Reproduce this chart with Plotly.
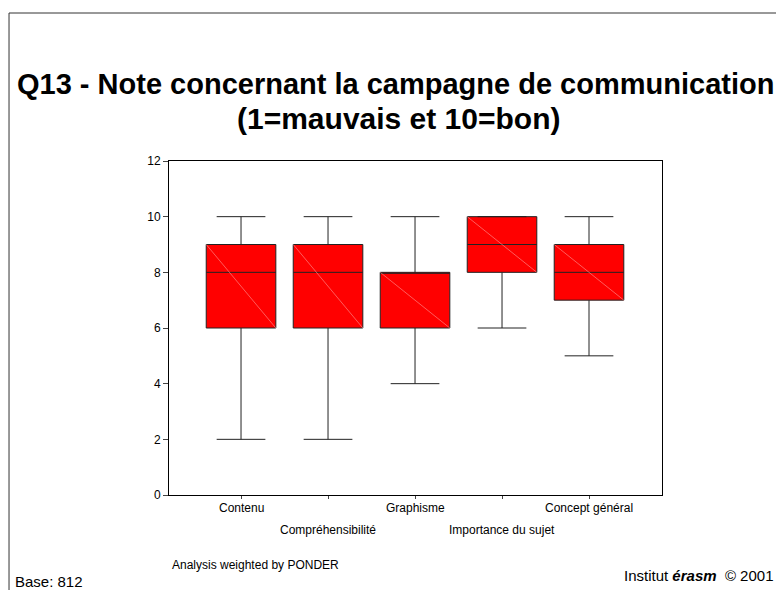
import plotly.graph_objects as go

categories = ["Contenu", "Compréhensibilité", "Graphisme", "Importance du sujet", "Concept général"]
lower_whisker = [2, 2, 4, 6, 5]
q1 = [6, 6, 6, 8, 7]
median = [8, 8, 8, 9, 8]
q3 = [9, 9, 8, 10, 9]
upper_whisker = [10, 10, 10, 10, 10]
y_ticks = [0, 2, 4, 6, 8, 10, 12]

FONT = "Liberation Sans, Arial, sans-serif"
positions = list(range(len(categories)))
BOX_W = 0.8

fig = go.Figure()
fig.add_trace(go.Box(
    x=positions, q1=q1, median=median, q3=q3,
    lowerfence=lower_whisker, upperfence=upper_whisker,
    width=BOX_W, whiskerwidth=0.7,
    fillcolor="#ff0000", line=dict(color="#222222", width=1),
    boxpoints=False, hoverinfo="skip", showlegend=False,
))

# faint diagonal inside each box (top-left to bottom-right)
for p, a, b in zip(positions, q3, q1):
    fig.add_trace(go.Scatter(
        x=[p - BOX_W / 2, p + BOX_W / 2], y=[a, b], mode="lines",
        line=dict(color="rgba(255,170,170,0.9)", width=0.6),
        hoverinfo="skip", showlegend=False,
    ))

annotations = []
for i, (p, name) in enumerate(zip(positions, categories)):
    annotations.append(dict(
        x=p, xref="x", y=-0.039 if i % 2 == 0 else -0.105, yref="paper",
        text=name, showarrow=False, xanchor="center", yanchor="middle",
        font=dict(family=FONT, size=12, color="#000000"),
    ))

annotations += [
    dict(x=0.4604, y=1.2305, xref="paper", yref="paper", showarrow=False,
         text="<b>Q13 - Note concernant la campagne de communication</b>",
         xanchor="center", yanchor="middle",
         font=dict(family=FONT, size=29, color="#000000")),
    dict(x=0.4665, y=1.1287, xref="paper", yref="paper", showarrow=False,
         text="<b>(1=mauvais et 10=bon)</b>",
         xanchor="center", yanchor="middle",
         font=dict(family=FONT, size=30, color="#000000")),
    dict(x=0.002, y=-0.2096, xref="paper", yref="paper", showarrow=False,
         text="Analysis weighted by PONDER", xanchor="left", yanchor="middle",
         font=dict(family=FONT, size=12, color="#000000")),
    dict(x=1.2312, y=-0.2425, xref="paper", yref="paper", showarrow=False,
         text="Institut <b><i>érasm</i></b>  © 2001", xanchor="right", yanchor="middle",
         font=dict(family=FONT, size=15, color="#000000")),
    dict(x=-0.3164, y=-0.2575, xref="paper", yref="paper", showarrow=False,
         text="Base: 812", xanchor="left", yanchor="middle",
         font=dict(family=FONT, size=15, color="#000000")),
]

shapes = [
    dict(type="line", xref="paper", yref="paper", x0=-0.3245, x1=-0.3245, y0=-0.35, y1=1.4431,
         line=dict(color="#333333", width=1)),
    dict(type="line", xref="paper", yref="paper", x0=-0.3245, x1=1.3, y0=1.4431, y1=1.4431,
         line=dict(color="#333333", width=1)),
]

fig.update_layout(
    width=776, height=582,
    margin=dict(l=161, r=122, t=153, b=95),
    paper_bgcolor="#ffffff", plot_bgcolor="#ffffff",
    font=dict(family=FONT, size=12, color="#000000"),
    annotations=annotations, shapes=shapes,
    xaxis=dict(range=[-0.828, 4.839], tickvals=positions, showticklabels=False,
               ticks="outside", ticklen=3, tickcolor="#444444",
               showline=True, linecolor="#000000", linewidth=1, mirror=True,
               showgrid=False, zeroline=False, fixedrange=True),
    yaxis=dict(range=[0, 12], tickvals=y_ticks, ticks="outside", ticklen=5,
               tickcolor="#444444", tickfont=dict(family=FONT, size=12),
               showline=True, linecolor="#000000", linewidth=1, mirror=True,
               showgrid=False, zeroline=False, fixedrange=True),
)

fig.write_html("out.html")
